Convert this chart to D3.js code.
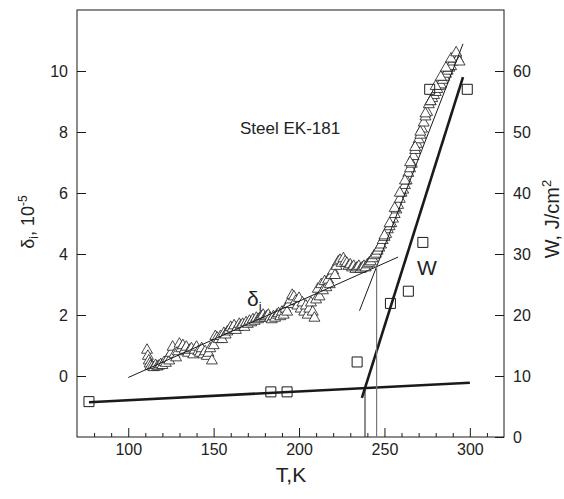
<!DOCTYPE html>
<html>
<head>
<meta charset="utf-8">
<script src="https://cdn.jsdelivr.net/npm/d3@7"></script>
<style>
  html, body { margin: 0; padding: 0; background: #fff; }
  svg { display: block; font-family: "Liberation Sans", Arial, sans-serif; }
</style>
</head>
<body>
<svg id="chart" width="564" height="499"></svg>
<script>
// Internal friction delta_i (triangles, left axis) and impact energy W (squares, right axis)
// versus temperature for steel EK-181.

const triT = [
  111, 111.5, 112, 112.5, 113, 114, 115, 116, 117, 118, 119, 120, 121, 122, 123, 124, 125,
  126, 127, 128, 129, 130, 131, 132, 133, 134, 135, 136, 137, 138, 139, 140, 141, 142, 143,
  144, 145, 146, 147, 148, 149, 150, 151, 152, 153, 154, 155, 156, 157, 158, 159, 160,
  161, 162, 163, 164, 165, 166, 167, 168, 169, 170, 171, 172, 173, 174, 175, 176, 177,
  178, 179, 180, 181, 182, 183, 184, 185, 186, 187, 188, 189, 190, 191, 192, 193, 194,
  195, 196, 197, 198, 199, 200, 201, 202, 203, 204, 205, 206, 207, 208, 209, 210, 211,
  212, 213, 214, 215, 216, 217, 218, 219, 220, 221, 222, 223, 224, 225, 226, 227, 228,
  229, 230, 231, 232, 233, 234, 235, 236, 237, 238, 239, 240, 241, 242, 243, 244, 245,
  246, 247, 248, 249, 250, 251, 252, 253, 254, 255, 256, 257, 258, 259, 260, 261, 262,
  263, 264, 265, 266, 267, 268, 269, 270, 271, 272, 273, 274, 275, 276, 277, 278, 279,
  280, 281, 282, 283, 284, 285, 286, 287, 288, 289, 290, 291, 292, 293, 294,
  250, 253, 256, 259, 262, 265, 268, 271, 274, 277, 280, 283, 286, 289, 292
];
const triD = [
  0.85, 0.65, 0.5, 0.4, 0.32, 0.3, 0.28, 0.35, 0.3, 0.33, 0.38, 0.35, 0.45, 0.42, 0.55, 0.5, 0.75,
  0.95, 0.7, 0.6, 0.8, 1.05, 0.9, 1.0, 0.85, 0.95, 0.75, 0.85, 0.9, 0.7, 0.85, 0.95, 0.8, 0.75, 0.9,
  0.7, 0.8, 0.65, 0.75, 0.9, 0.5, 1.0, 1.3, 1.25, 1.2, 1.3, 1.2, 1.4, 1.35, 1.45, 1.5, 1.6,
  1.55, 1.65, 1.5, 1.6, 1.7, 1.65, 1.7, 1.6, 1.75, 1.7, 1.8, 1.75, 1.85, 1.8, 1.9, 1.85, 1.9,
  1.95, 2.0, 1.9, 1.95, 2.0, 1.9, 1.85, 1.95, 1.9, 2.0, 2.05, 1.95, 2.1, 2.0, 2.2, 2.1, 2.35,
  2.5, 2.65, 2.6, 2.45, 2.3, 2.55, 2.2, 2.4, 2.1, 2.3, 2.0, 2.2, 2.4, 2.1, 1.9, 2.5, 2.85,
  2.6, 3.0, 2.8, 3.1, 2.9, 3.15, 3.0, 3.3, 3.45, 3.3, 3.6, 3.75, 3.8, 3.7, 3.85, 3.75, 3.7,
  3.6, 3.65, 3.55, 3.6, 3.5, 3.55, 3.6, 3.5, 3.55, 3.6, 3.55, 3.65, 3.7, 3.75, 3.85, 3.95, 4.0,
  4.1, 4.2, 4.3, 4.45, 4.55, 4.65, 4.8, 4.9, 5.0, 5.15, 5.3, 5.45, 5.6, 5.8, 6.0, 6.1, 6.25,
  6.4, 6.65, 6.8, 6.95, 7.2, 7.4, 7.6, 7.75, 7.9, 8.1, 8.3, 8.5, 8.65, 8.9, 9.0, 9.1, 9.2,
  9.3, 9.4, 9.5, 9.55, 9.7, 9.8, 9.9, 10.0, 10.1, 10.15, 10.3, 10.4, 10.55, 10.4, 10.3,
  4.6, 5.0, 5.5, 6.0, 6.4, 7.0, 7.5, 8.0, 8.6, 9.0, 9.5, 9.8, 10.1, 10.4, 10.6
];

const sqT = [77, 183.5, 193, 234, 253.5, 264, 272.5, 276.5, 298.5];
const sqW = [5.8, 7.4, 7.4, 12.3, 21.9, 23.9, 31.9, 57.0, 57.0];

// straight-line fits: thin ones on the delta scale, thick ones on the W scale
const fitLowT = [100, 258], fitLowD = [-0.05, 3.9];
const fitHighT = [235.4, 296], fitHighD = [2.14, 10.89];
const wFlatT = [77, 300], wFlatW = [5.7, 8.9];
const wSteepT = [236.8, 296], wSteepW = [6.4, 59];

const xMajor = [100, 150, 200, 250, 300];
const xMinor = d3.range(80, 320, 10).filter(v => v % 50 !== 0);
const dTicks = [0, 2, 4, 6, 8, 10];
const wTicks = [0, 10, 20, 30, 40, 50, 60];

const W = 564, H = 499;
const m = { left: 77, right: 60, top: 10, bottom: 62 };
const svg = d3.select("#chart");

const x = d3.scaleLinear().domain([70, 320]).range([m.left, W - m.right]);
const yD = d3.scaleLinear().domain([-2, 12]).range([H - m.bottom, m.top]);
const yW = d3.scaleLinear().domain([0, 70]).range([H - m.bottom, m.top]);

const ink = "#1a1a1a";

// frame
svg.append("rect")
  .attr("x", m.left).attr("y", m.top)
  .attr("width", W - m.left - m.right).attr("height", H - m.top - m.bottom)
  .attr("fill", "none").attr("stroke", ink).attr("stroke-width", 1);

function styleAxis(g) {
  g.select(".domain").remove();
  g.selectAll(".tick line").attr("stroke", ink);
  g.selectAll(".tick text").attr("fill", "#222").style("font-size", "16px")
    .style("font-family", "'Liberation Sans', Arial, sans-serif");
}

svg.append("g").attr("transform", `translate(0,${H - m.bottom})`)
  .call(d3.axisBottom(x).tickValues(xMinor).tickSize(-4).tickFormat(""))
  .call(styleAxis);
svg.append("g").attr("transform", `translate(0,${H - m.bottom})`)
  .call(d3.axisBottom(x).tickValues(xMajor).tickSize(-9).tickPadding(7).tickFormat(d3.format("d")))
  .call(styleAxis);
svg.append("g").attr("transform", `translate(${m.left},0)`)
  .call(d3.axisLeft(yD).tickValues(dTicks).tickSize(-9).tickPadding(9).tickFormat(d3.format("d")))
  .call(styleAxis);
svg.append("g").attr("transform", `translate(${W - m.right},0)`)
  .call(d3.axisRight(yW).tickValues(wTicks).tickSize(-9).tickPadding(9).tickFormat(d3.format("d")))
  .call(styleAxis);

const plot = svg.append("g");

// triangles: delta_i
const tri = d3.symbol().type(d3.symbolTriangle).size(52);
plot.append("g").selectAll("path")
  .data(d3.range(triT.length))
  .join("path")
  .attr("d", tri)
  .attr("transform", i => `translate(${x(triT[i])},${yD(triD[i])})`)
  .attr("fill", "#fff").attr("stroke", ink).attr("stroke-width", 0.8);

// squares: W
const sq = d3.symbol().type(d3.symbolSquare).size(100);
plot.append("g").selectAll("path")
  .data(d3.range(sqT.length))
  .join("path")
  .attr("d", sq)
  .attr("transform", i => `translate(${x(sqT[i])},${yW(sqW[i])})`)
  .attr("fill", "none").attr("stroke", ink).attr("stroke-width", 1);

const lineD = d3.line().x(d => x(d[0])).y(d => yD(d[1]));
const lineW = d3.line().x(d => x(d[0])).y(d => yW(d[1]));

plot.append("path").attr("d", lineD(d3.zip(fitLowT, fitLowD)))
  .attr("fill", "none").attr("stroke", ink).attr("stroke-width", 1);
plot.append("path").attr("d", lineD(d3.zip(fitHighT, fitHighD)))
  .attr("fill", "none").attr("stroke", ink).attr("stroke-width", 1);
plot.append("path").attr("d", lineW(d3.zip(wFlatT, wFlatW)))
  .attr("fill", "none").attr("stroke", ink).attr("stroke-width", 2.6);
plot.append("path").attr("d", lineW(d3.zip(wSteepT, wSteepW)))
  .attr("fill", "none").attr("stroke", ink).attr("stroke-width", 2.6);

// crossing points of each pair of fits
function cross(t1, v1, t2, v2) {
  const s1 = (v1[1] - v1[0]) / (t1[1] - t1[0]);
  const s2 = (v2[1] - v2[0]) / (t2[1] - t2[0]);
  const t = (v2[0] - v1[0] + s1 * t1[0] - s2 * t2[0]) / (s1 - s2);
  return [t, v1[0] + s1 * (t - t1[0])];
}
const cD = cross(fitLowT, fitLowD, fitHighT, fitHighD);
const cW = cross(wFlatT, wFlatW, wSteepT, wSteepW);

plot.append("line")
  .attr("x1", x(cW[0])).attr("x2", x(cW[0]))
  .attr("y1", yW(0)).attr("y2", yW(cW[1]))
  .attr("stroke", ink).attr("stroke-width", 1);
plot.append("line")
  .attr("x1", x(cD[0])).attr("x2", x(cD[0]))
  .attr("y1", yD(-2)).attr("y2", yD(cD[1]))
  .attr("stroke", "#777").attr("stroke-width", 1.2);

// annotations
svg.append("text").attr("x", 240).attr("y", 134)
  .attr("fill", "#222").style("font-size", "17px").text("Steel EK-181");
svg.append("text").attr("x", 417).attr("y", 275)
  .attr("fill", "#222").style("font-size", "21px").text("W");
const di = svg.append("text").attr("x", 247).attr("y", 306)
  .attr("fill", "#222").style("font-size", "21px");
di.append("tspan").text("δ");
di.append("tspan").attr("dy", 5).style("font-size", "13px").text("i");

// axis titles
svg.append("text").attr("x", 291).attr("y", 482).attr("text-anchor", "middle")
  .attr("fill", "#222").style("font-size", "21px").text("T,K");

const yl = svg.append("text")
  .attr("transform", `translate(34,222) rotate(-90)`)
  .attr("text-anchor", "middle").attr("fill", "#222").style("font-size", "18px");
yl.append("tspan").text("δ");
yl.append("tspan").attr("dy", 4).style("font-size", "12px").text("i");
yl.append("tspan").attr("dy", -4).text(", 10");
yl.append("tspan").attr("dy", -7).style("font-size", "12px").text("-5");

const yr = svg.append("text")
  .attr("transform", `translate(559,219) rotate(-90)`)
  .attr("text-anchor", "middle").attr("fill", "#222").style("font-size", "20px");
yr.append("tspan").text("W, J/cm");
yr.append("tspan").attr("dy", -8).style("font-size", "13px").text("2");
</script>
</body>
</html>
